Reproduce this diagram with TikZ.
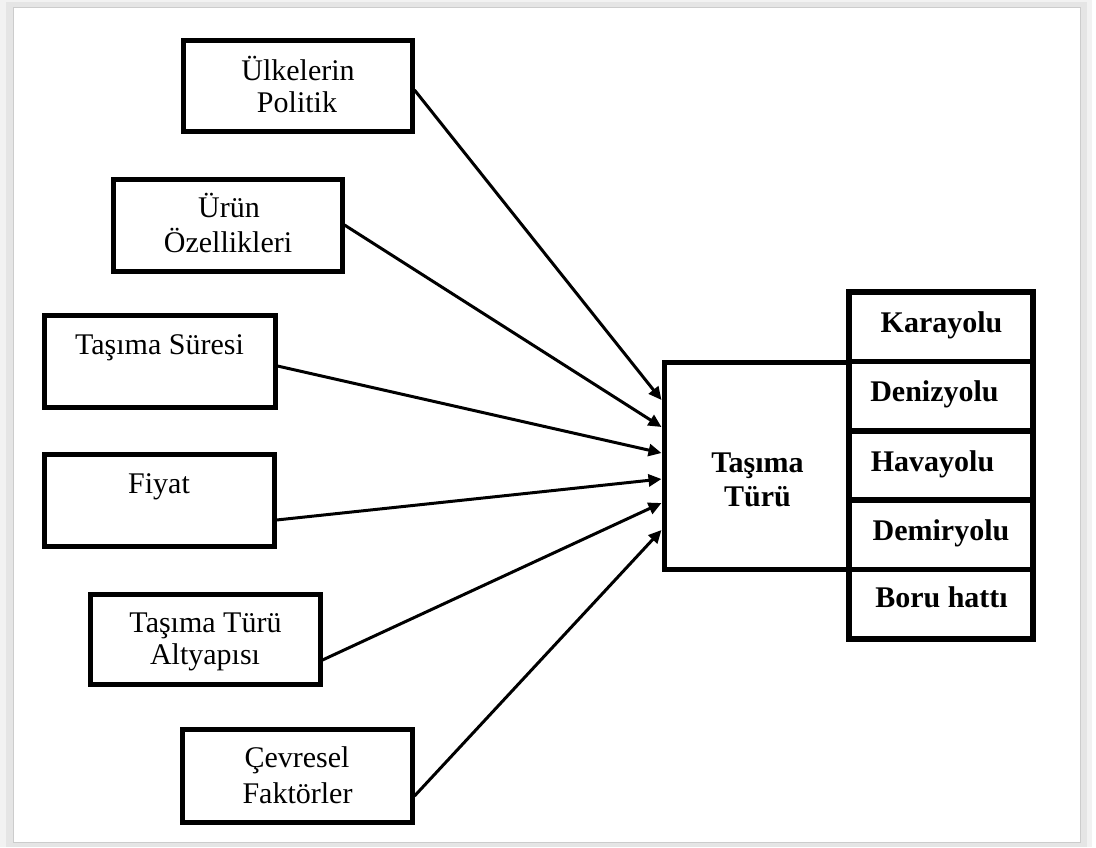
\documentclass[tikz,border=0pt]{standalone}
\usepackage{fontspec}
\setmainfont{Liberation Serif}
\usetikzlibrary{arrows.meta}
\begin{document}
\begin{tikzpicture}[x=1pt,y=-1pt,
  box/.style={draw=black,line width=5pt,inner sep=0pt,fill=white},
  rbox/.style={draw=black,line width=5.5pt,inner sep=0pt,minimum width=184pt,minimum height=69.4pt},
  txt/.style={anchor=base,inner sep=0pt,font=\fontsize{30}{34}\selectfont},
  btxt/.style={anchor=base,inner sep=0pt,font=\fontsize{30}{34}\selectfont\bfseries},
  arr/.style={line width=3pt,-{Triangle[length=13pt,width=12pt]}}]
\useasboundingbox (0,0) rectangle (1096,847);
% frame with shadow
\fill[white] (0,0) rectangle (1096,847);
\fill[gray!10] (0,0) rectangle (1092,847);
\fill[gray!20] (6,2) rectangle (1087,847);
\fill[white,draw=gray!40,line width=1pt] (13,7) rectangle (1080,842);
% left boxes
\node[box,minimum width=229pt,minimum height=91pt] (b1) at (297.5,85.5) {};
\node[box,minimum width=229pt,minimum height=92pt] (b2) at (227.5,225) {};
\node[box,minimum width=231pt,minimum height=92pt] (b3) at (159.5,361) {};
\node[box,minimum width=230pt,minimum height=92pt] (b4) at (159,500) {};
\node[box,minimum width=230pt,minimum height=90pt] (b5) at (205,639) {};
\node[box,minimum width=230pt,minimum height=93pt] (b6) at (297,775.5) {};
% texts
\node[txt] (t1a) at (298,80) {Ülkelerin};
\node[txt] (t1b) at (297,112) {Politik};
\node[txt] (t2a) at (229,217) {Ürün};
\node[txt] (t2b) at (228,252) {Özellikleri};
\node[txt] (t3) at (159.5,354) {Taşıma Süresi};
\node[txt] (t4) at (159,493) {Fiyat};
\node[txt] (t5a) at (205.5,632) {Taşıma Türü};
\node[txt] (t5b) at (205,664) {Altyapısı};
\node[txt] (t6a) at (297,767) {Çevresel};
\node[txt] (t6b) at (297.5,803) {Faktörler};
% center box
\node[box,minimum width=184pt,minimum height=207pt] (c) at (756,465.5) {};
\node[btxt] (ca) at (757.5,472) {Taşıma};
\node[btxt] (cb) at (757.5,506) {Türü};
% right column
\node[rbox] (r1) at (941,326.7) {};
\node[rbox] (r2) at (941,396.1) {};
\node[rbox] (r3) at (941,465.5) {};
\node[rbox] (r4) at (941,534.9) {};
\node[rbox] (r5) at (941,604.3) {};
\node[btxt] (l1) at (941.5,332) {Karayolu};
\node[btxt] (l2) at (934.5,401) {Denizyolu};
\node[btxt] (l3) at (932.5,471) {Havayolu};
\node[btxt] (l4) at (941,540) {Demiryolu};
\node[btxt] (l5) at (941.5,607) {Boru hattı};
% arrows
\draw[arr] ([yshift=-4.5pt]b1.east) -- ([yshift=65.5pt]c.west);
\draw[arr] (b2.east) -- ([yshift=38.5pt]c.west);
\draw[arr] ([yshift=-5pt]b3.east) -- ([yshift=12.5pt]c.west);
\draw[arr] ([yshift=-20pt]b4.east) -- ([yshift=-13.5pt]c.west);
\draw[arr] ([yshift=-21pt]b5.east) -- ([yshift=-37.5pt]c.west);
\draw[arr] ([yshift=-20.5pt]b6.east) -- ([yshift=-64.5pt]c.west);
\end{tikzpicture}
\end{document}
